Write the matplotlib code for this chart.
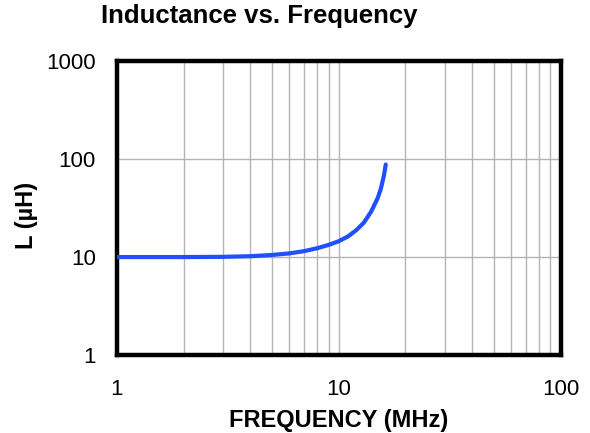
import matplotlib.pyplot as plt
from matplotlib.ticker import LogLocator, FixedLocator, NullFormatter

plt.rcParams['font.family'] = ['Liberation Sans', 'DejaVu Sans']

# 频率 (MHz) 与电感 (µH)
freq_mhz = [1, 2, 3, 4, 5, 6, 7, 8, 9, 10, 11, 12, 13, 14, 15, 15.5, 16, 16.3]
induct_uh = [10, 10, 10.05, 10.2, 10.5, 10.9, 11.5, 12.3, 13.3, 14.5, 16.2, 18.8, 22.5, 29, 40, 50, 68, 88]

x_ticks = [1, 10, 100]
y_ticks = [1, 10, 100, 1000]

fig = plt.figure(figsize=(5.9, 4.33), dpi=100)
ax = fig.add_axes([0.198, 0.180, 0.752, 0.679])

ax.plot(freq_mhz, induct_uh, color='#1f4fff', linewidth=3, solid_capstyle='round', zorder=3)

ax.set_xscale('log')
ax.set_yscale('log')
ax.set_xlim(1, 100)
ax.set_ylim(1, 1000)

ax.xaxis.set_major_locator(FixedLocator(x_ticks))
ax.yaxis.set_major_locator(FixedLocator(y_ticks))
ax.set_xticklabels([str(v) for v in x_ticks])
ax.set_yticklabels([str(v) for v in y_ticks])
ax.xaxis.set_minor_locator(LogLocator(base=10, subs=range(2, 10)))
ax.xaxis.set_minor_formatter(NullFormatter())
ax.yaxis.set_minor_locator(FixedLocator([]))

# 网格: x 方向含次刻度, y 只在十倍处
ax.grid(True, which='major', axis='both', color='#b4b4b4', linewidth=1)
ax.grid(True, which='minor', axis='x', color='#b4b4b4', linewidth=1)
ax.tick_params(which='both', length=0, labelsize=16)
ax.tick_params(axis='x', pad=17)
ax.tick_params(axis='y', pad=15)

for s in ax.spines.values():
    s.set_linewidth(3.2)
    s.set_color('black')

ax.set_xlabel('FREQUENCY (MHz)', fontsize=17, fontweight='bold', va='center')
ax.xaxis.set_label_coords(0.5, -0.221)
ax.set_ylabel('L (µH)', fontsize=17, fontweight='bold', va='center')
ax.yaxis.set_label_coords(-0.203, 0.476)
fig.text(0.439, 0.962, 'Inductance vs. Frequency', fontsize=18.5, fontweight='bold',
         ha='center', va='center')

plt.savefig('out.png', dpi=100)
